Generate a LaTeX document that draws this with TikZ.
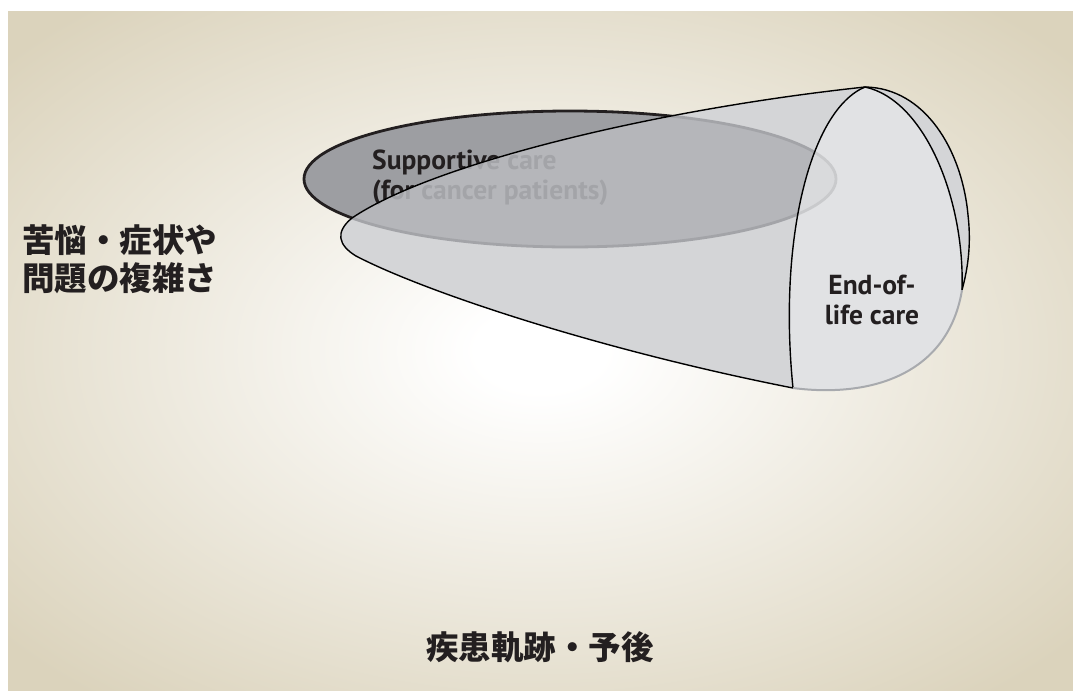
\documentclass[tikz,border=0pt]{standalone}
\usepackage{fontspec}
\setmainfont{PT Sans}
\newfontfamily\jpfont{Noto Sans CJK JP}
\usepackage{xcolor}
\definecolor{bgbeige}{HTML}{DBD3BC}
\definecolor{ovaldark}{HTML}{9D9EA2}
\definecolor{ovalmid}{HTML}{B5B6BA}
\definecolor{ovalline}{HTML}{A3A4A8}
\definecolor{ovallight}{HTML}{D9DADC}
\definecolor{ovalfaint}{HTML}{C9CACC}
\definecolor{conebody}{HTML}{D4D5D7}
\definecolor{coneface}{HTML}{E1E2E4}
\definecolor{conerim}{HTML}{A8AAAE}
\definecolor{textdark}{HTML}{231F20}
\pgfdeclareradialshading{beigeglow}{\pgfpoint{0bp}{0bp}}{%
  color(0bp)=(white); color(3bp)=(white); color(33bp)=(bgbeige); color(50bp)=(bgbeige)}
% outlines of the care regions
\newcommand{\suppoval}{(570,179) ellipse [x radius=266pt, y radius=68pt]}
\newcommand{\conesil}{(865,87) .. controls (650,110) and (430,165) .. (352,218)
  .. controls (335,232) and (338,245) .. (356,256)
  .. controls (425,292) and (600,350) .. (793,388)
  .. controls (870,398) and (948,375) .. (962,290)
  .. controls (966,275) and (972,250) .. (968,215)
  .. controls (962,150) and (925,88) .. (865,87) -- cycle}
\newcommand{\conefront}{(865,87) .. controls (810,110) and (778,240) .. (793,388)
  .. controls (870,398) and (948,375) .. (962,290)
  .. controls (965,200) and (925,100) .. (865,87) -- cycle}
\newcommand{\supplabel}{Supportive care\\(for cancer patients)}

\begin{document}
\begin{tikzpicture}[x=1pt,y=-1pt,
  suppbox/.style={anchor=west,align=left,inner sep=0pt,
    font=\fontsize{27.5}{30}\selectfont\bfseries},
  jplabel/.style={inner sep=0pt,text=textdark,
    font=\jpfont\bfseries\fontsize{32.5}{38}\selectfont},
  edge/.style={line width=1.4pt,line join=round}]
  \useasboundingbox (0,0) rectangle (1073,697);
  \fill[white] (0,0) rectangle (1073,697);
  \shade[shading=beigeglow] (8,11) rectangle (1073,690);

  % supportive care oval, behind the cone
  \fill[ovaldark] \suppoval;
  \draw[line width=2.8pt,textdark] \suppoval;
  \node[suppbox,text=textdark] (supp) at (372,178) {\supplabel};

  % cone body, the oval seen through it
  \fill[conebody] \conesil;
  \begin{scope}
    \clip \conesil;
    \fill[ovalmid] \suppoval;
    \draw[line width=2.8pt,ovalline] \suppoval;
    \node[suppbox,text=ovalline] (supp-veil) at (372,178) {\supplabel};
  \end{scope}

  % end-of-life face
  \fill[coneface] \conefront;
  \begin{scope}
    \clip \conefront;
    \fill[ovallight] \suppoval;
    \draw[line width=2.8pt,ovalfaint] \suppoval;
  \end{scope}

  \draw[edge] (865,87) .. controls (650,110) and (430,165) .. (352,218)
    .. controls (335,232) and (338,245) .. (356,256)
    .. controls (425,292) and (600,350) .. (793,388);
  \draw[edge] (865,87) .. controls (810,110) and (778,240) .. (793,388);
  \draw[edge] (962,290) .. controls (965,200) and (925,100) .. (865,87);
  \draw[edge] (865,87) .. controls (925,88) and (962,150) .. (968,215)
    .. controls (972,250) and (966,275) .. (962,290);
  \draw[line width=2pt,conerim] (793,388) .. controls (870,398) and (948,375) .. (962,290);

  \node[suppbox,anchor=center,align=center,text=textdark] (eol) at (872,300) {End-of-\\life care};

  % axis captions
  \node[jplabel,anchor=west,align=left] (distress) at (22,259) {苦悩・症状や\\問題の複雑さ};
  \node[jplabel] (trajectory) at (540,647) {疾患軌跡・予後};
\end{tikzpicture}
\end{document}
